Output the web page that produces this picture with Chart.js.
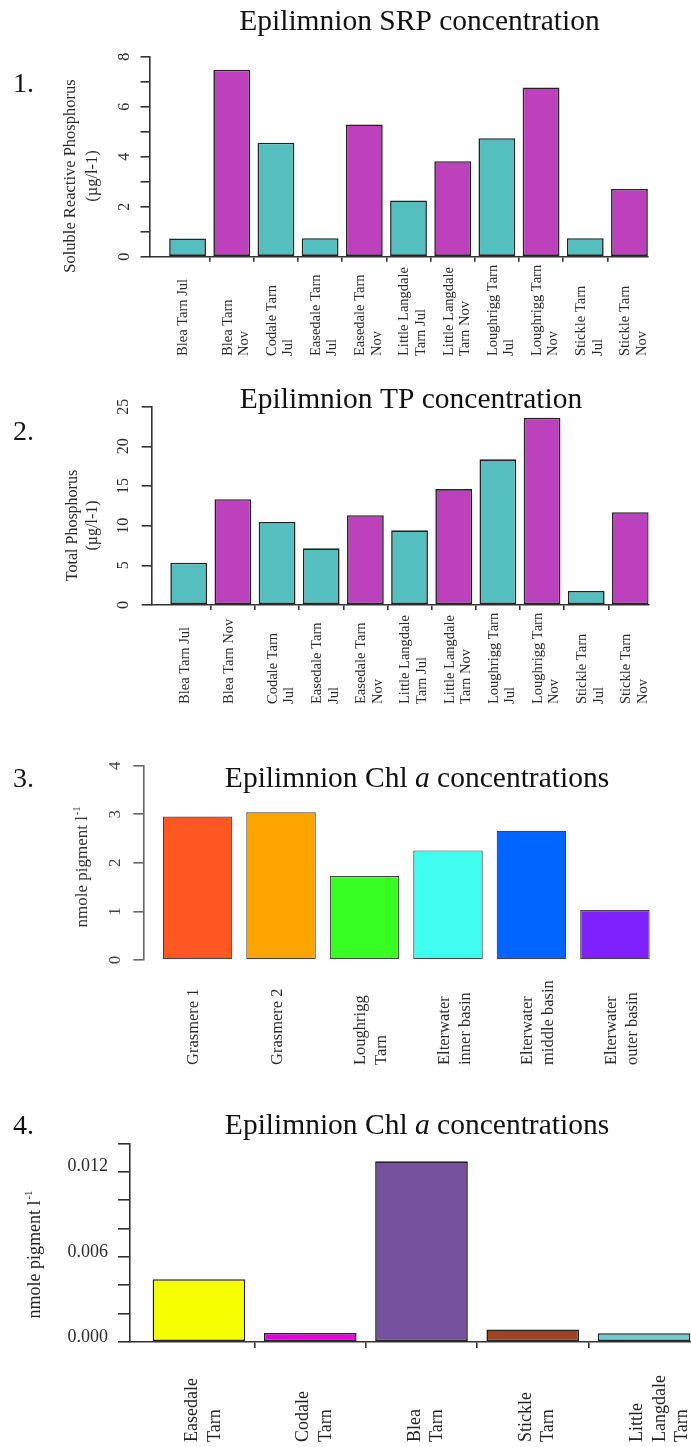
<!DOCTYPE html>
<html>
<head>
<meta charset="utf-8">
<script src="https://cdn.jsdelivr.net/npm/chart.js@4.4.1/dist/chart.umd.min.js"></script>
<style>
html,body{margin:0;padding:0;background:#fff;overflow:hidden;width:691px;height:1447px;position:relative;}
canvas{position:absolute;left:0;}
</style>
</head>
<body>
<canvas id="c1" width="691" height="370" style="top:0px"></canvas>
<canvas id="c2" width="691" height="360" style="top:370px"></canvas>
<canvas id="c3" width="691" height="350" style="top:730px"></canvas>
<canvas id="c4" width="720" height="367" style="top:1080px"></canvas>
<script>
const SERIF = '"Liberation Serif", "Times New Roman", Times, serif';

// ---------- data ----------
const srpLabels = ['Blea Tarn Jul', 'Blea Tarn\nNov', 'Codale Tarn\nJul', 'Easedale Tarn\nJul', 'Easedale Tarn\nNov',
  'Little Langdale\nTarn Jul', 'Little Langdale\nTarn Nov', 'Loughrigg Tarn\nJul', 'Loughrigg Tarn\nNov', 'Stickle Tarn\nJul', 'Stickle Tarn\nNov'];
const srpValues = [0.73, 7.48, 4.56, 0.74, 5.29, 2.25, 3.82, 4.74, 6.77, 0.74, 2.71];
const srpTickLabels = [0, 2, 4, 6, 8];

const tpLabels = ['Blea Tarn Jul', 'Blea Tarn Nov', 'Codale Tarn\nJul', 'Easedale Tarn\nJul', 'Easedale Tarn\nNov',
  'Little Langdale\nTarn Jul', 'Little Langdale\nTarn Nov', 'Loughrigg Tarn\nJul', 'Loughrigg Tarn\nNov', 'Stickle Tarn\nJul', 'Stickle Tarn\nNov'];
const tpValues = [5.34, 13.34, 10.47, 7.14, 11.32, 9.42, 14.61, 18.37, 23.6, 1.77, 11.7];
const tpTickLabels = [0, 5, 10, 15, 20, 25];

const chlLakeLabels = ['Grasmere 1', 'Grasmere 2', 'Loughrigg\nTarn', 'Elterwater\ninner basin', 'Elterwater\nmiddle basin', 'Elterwater\nouter basin'];
const chlLakeValues = [2.955, 3.04, 1.73, 2.256, 2.66, 1.03];
const chlLakeTickLabels = [0, 1, 2, 3, 4];

const chlTarnLabels = ['Easedale\nTarn', 'Codale\nTarn', 'Blea\nTarn', 'Stickle\nTarn', 'Little\nLangdale\nTarn'];
const chlTarnValues = [0.00442, 0.00064, 0.01273, 0.00088, 0.00062];
const chlTarnTickLabels = [0, 0.006, 0.012];

// ---------- styles ----------
const JUL = '#55BEBE', NOV = '#BD40BD';
const phosColors = [JUL, NOV, JUL, JUL, NOV, JUL, NOV, JUL, NOV, JUL, NOV];
const lakeColors = ['#FF5722', '#FFA500', '#38FF22', '#40FFF0', '#0066FF', '#7F20FF'];
const tarnColors = ['#F5FF00', '#E400E4', '#76529E', '#A0441E', '#6ECECE'];

function makeDecor(d) {
  return {
    id: 'decor',
    afterDraw(chart) {
      const ctx = chart.ctx;
      ctx.save();
      ctx.fillStyle = '#111';
      ctx.font = `${d.panel.size}px ${SERIF}`;
      ctx.textAlign = 'left'; ctx.textBaseline = 'alphabetic';
      ctx.fillText(d.panel.text, d.panel.x, d.panel.y);
      const fnt = it => `${it ? 'italic ' : ''}${d.title.size}px ${SERIF}`;
      let tot = 0;
      d.title.parts.forEach(p => { ctx.font = fnt(p.i); tot += ctx.measureText(p.t).width; });
      let tx = d.title.cx - tot / 2;
      d.title.parts.forEach(p => { ctx.font = fnt(p.i); ctx.fillText(p.t, tx, d.title.y); tx += ctx.measureText(p.t).width; });
      ctx.fillStyle = d.ytitle.color;
      d.ytitle.lines.forEach((line, k) => {
        ctx.save();
        ctx.translate(d.ytitle.xs[k], d.ytitle.cy);
        ctx.rotate(-Math.PI / 2);
        ctx.textBaseline = 'middle';
        ctx.font = `${d.ytitle.size}px ${SERIF}`;
        const mw = ctx.measureText(line).width;
        let sw = 0;
        const supFont = `${Math.round(d.ytitle.size * 0.6)}px ${SERIF}`;
        if (d.ytitle.sup) { ctx.font = supFont; sw = ctx.measureText(d.ytitle.sup).width; }
        const start = -(mw + sw) / 2;
        ctx.font = `${d.ytitle.size}px ${SERIF}`;
        ctx.textAlign = 'left';
        ctx.fillText(line, start, 0);
        if (d.ytitle.sup) { ctx.font = supFont; ctx.fillText(d.ytitle.sup, start + mw + 1, -d.ytitle.size * 0.35); }
        ctx.restore();
      });
      const xs = chart.scales.x;
      ctx.fillStyle = d.xlabels.color;
      ctx.font = `${d.xlabels.size}px ${SERIF}`;
      d.xlabels.labels.forEach((lab, i) => {
        const cx = xs.getPixelForValue(i) + d.xlabels.off;
        lab.split('\n').forEach((line, k) => {
          ctx.save();
          ctx.translate(cx + k * d.xlabels.lh, d.xlabels.bottom);
          ctx.rotate(-Math.PI / 2);
          ctx.textAlign = 'left'; ctx.textBaseline = 'middle';
          ctx.fillText(line, 0, 0);
          ctx.restore();
        });
      });
      ctx.restore();
    }
  };
}

function barChart(id, o) {
  const canvas = document.getElementById(id);
  const W = canvas.width, H = canvas.height;
  const boundaries = [];
  for (let i = 0; i < o.values.length; i++) boundaries.push(i + 0.5);
  return new Chart(canvas, {
    type: 'bar',
    data: {
      datasets: [{
        data: o.values.map((v, i) => ({ x: i, y: v })),
        backgroundColor: o.colors,
        borderColor: o.barBorder,
        borderWidth: o.barBorderWidth,
        borderSkipped: false,
        categoryPercentage: 1,
        barPercentage: 0.833
      }]
    },
    options: {
      responsive: false,
      animation: false,
      events: [],
      layout: { padding: { left: 0, top: o.area.top, right: W - o.area.right, bottom: 0 } },
      plugins: { legend: { display: false }, tooltip: { enabled: false }, title: { display: false } },
      scales: {
        x: {
          type: 'linear', min: o.xmin, max: o.xmax, offset: false,
          grid: { display: o.xticks, offset: false, drawOnChartArea: false, drawTicks: true, tickLength: o.xTickLen, color: o.axisColor, lineWidth: o.axisWidth },
          border: { display: o.xline, color: o.axisColor, width: o.axisWidth },
          ticks: { display: false },
          afterBuildTicks: s => { s.ticks = boundaries.filter(b => b < o.xmax).map(b => ({ value: b })); },
          afterFit: s => { s.height = H - o.area.bottom; }
        },
        y: {
          min: 0, max: o.ymax,
          grid: { drawOnChartArea: false, drawTicks: true, tickLength: o.yTickLen, color: o.axisColor, lineWidth: o.axisWidth },
          border: { display: true, color: o.axisColor, width: o.axisWidth },
          ticks: {
            stepSize: o.ystep, autoSkip: false,
            font: { family: SERIF, size: o.yFont },
            color: o.yLabelColor,
            padding: o.yPad,
            minRotation: o.yRot, maxRotation: o.yRot,
            crossAlign: o.yRot ? 'center' : 'near',
            labelOffset: o.yLabelOffset || 0,
            callback: v => o.tickLabels.some(t => Math.abs(t - v) < 1e-9) ? (o.decimals ? v.toFixed(o.decimals) : String(Math.round(v))) : ''
          },
          afterFit: s => { s.width = o.area.left; }
        }
      }
    },
    plugins: [makeDecor(o.decor)]
  });
}

// ---------- 1. SRP ----------
barChart('c1', {
  values: srpValues, colors: phosColors, barBorder: '#222', barBorderWidth: 1.6,
  area: { left: 150, top: 56.7, right: 648, bottom: 256.7 },
  xmin: -0.85, xmax: 10.42, xticks: true, xline: true, xTickLen: 5,
  ymax: 8, ystep: 1, tickLabels: srpTickLabels, yFont: 16, yPad: 12, yRot: 90, yTickLen: 9.5,
  axisColor: '#333', axisWidth: 1.6, yLabelColor: '#2a2a2a',
  decor: {
    panel: { text: '1.', x: 13, y: 92, size: 28 },
    title: { parts: [{ t: 'Epilimnion SRP concentration', i: false }], cx: 419.5, y: 29.5, size: 29.5 },
    ytitle: { lines: ['Soluble Reactive Phosphorus', '(\u00b5g/l-1)'], xs: [71, 93], cy: 176, size: 16.5, color: '#2a2a2a' },
    xlabels: { labels: srpLabels, size: 14.5, lh: 16.5, off: -4, bottom: 356, color: '#2a2a2a' }
  }
});

// ---------- 2. TP ----------
barChart('c2', {
  values: tpValues, colors: phosColors, barBorder: '#222', barBorderWidth: 1.6,
  area: { left: 151.7, top: 36.7, right: 648.5, bottom: 235 },
  xmin: -0.838, xmax: 10.41, xticks: true, xline: true, xTickLen: 5,
  ymax: 25, ystep: 5, tickLabels: tpTickLabels, yFont: 16, yPad: 10, yRot: 90, yTickLen: 10,
  axisColor: '#333', axisWidth: 1.6, yLabelColor: '#2a2a2a',
  decor: {
    panel: { text: '2.', x: 13, y: 70, size: 28 },
    title: { parts: [{ t: 'Epilimnion TP concentration', i: false }], cx: 411, y: 38, size: 29.5 },
    ytitle: { lines: ['Total Phosphorus', '(\u00b5g/l-1)'], xs: [72.5, 93], cy: 155.5, size: 16, color: '#2a2a2a' },
    xlabels: { labels: tpLabels, size: 14.5, lh: 16.5, off: -4, bottom: 334, color: '#2a2a2a' }
  }
});

// ---------- 3. Chl a, lakes ----------
barChart('c3', {
  values: chlLakeValues, colors: lakeColors, barBorder: '#444', barBorderWidth: 1.2,
  area: { left: 143.3, top: 35.7, right: 650, bottom: 230 },
  xmin: -0.65, xmax: 5.42, xticks: false, xline: false, xTickLen: 0,
  ymax: 4, ystep: 1, tickLabels: chlLakeTickLabels, yFont: 17, yPad: 14, yRot: 90, yTickLen: 10,
  axisColor: '#666', axisWidth: 1.6, yLabelColor: '#444',
  decor: {
    panel: { text: '3.', x: 13, y: 57, size: 28 },
    title: { parts: [{ t: 'Epilimnion Chl ', i: false }, { t: 'a', i: true }, { t: ' concentrations', i: false }], cx: 417, y: 57, size: 29.5 },
    ytitle: { lines: ['nmole pigment l'], sup: '-1', xs: [83], cy: 137.5, size: 17, color: '#333' },
    xlabels: { labels: chlLakeLabels, size: 16.5, lh: 21, off: -3.5, bottom: 335, color: '#2a2a2a' }
  }
});

// ---------- 4. Chl a, tarns ----------
barChart('c4', {
  values: chlTarnValues, colors: tarnColors, barBorder: '#222', barBorderWidth: 1.6,
  area: { left: 130, top: 63.3, right: 720, bottom: 262 },
  xmin: -0.62, xmax: 4.683, xticks: true, xline: true, xTickLen: 6,
  ymax: 0.014, ystep: 0.002, tickLabels: chlTarnTickLabels, decimals: 3, yFont: 18, yPad: 10, yRot: 0, yTickLen: 12, yLabelOffset: -5,
  axisColor: '#333', axisWidth: 1.6, yLabelColor: '#2a2a2a',
  decor: {
    panel: { text: '4.', x: 13, y: 54, size: 28 },
    title: { parts: [{ t: 'Epilimnion Chl ', i: false }, { t: 'a', i: true }, { t: ' concentrations', i: false }], cx: 417, y: 54, size: 29.5 },
    ytitle: { lines: ['nmole pigment l'], sup: '-1', xs: [35], cy: 175, size: 18, color: '#222' },
    xlabels: { labels: chlTarnLabels, size: 18, lh: 22.5, off: -6.5, bottom: 362, color: '#222' }
  }
});
</script>
</body>
</html>
